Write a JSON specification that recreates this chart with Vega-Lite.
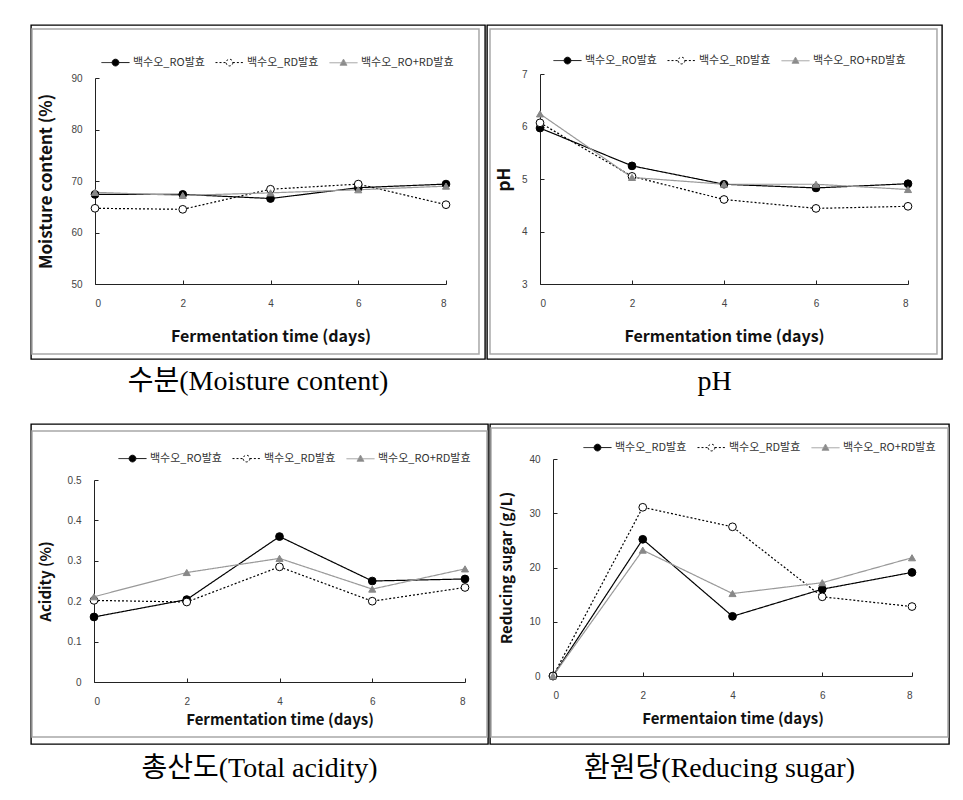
{
  "$schema": "https://vega.github.io/schema/vega-lite/v6.json",
  "padding": {"left": 30, "top": 24, "right": 0, "bottom": 0},
  "background": "white",
  "config": {
    "view": {"stroke": "#000000", "strokeWidth": 1.4},
    "axis": {"grid": false, "domainColor": "#222222", "tickColor": "#222222", "labelFont": "Liberation Sans", "labelFontSize": 10, "labelColor": "#444444", "titleFont": "Noto Sans CJK KR", "titleFontWeight": "bold", "titleColor": "#111111", "tickSize": -4},
    "legend": {"padding": 0, "labelFont": "Noto Sans CJK KR", "labelFontSize": 11, "labelColor": "#333333", "symbolSize": 784, "symbolStrokeWidth": 1, "columnPadding": 8, "labelOffset": 3},
    "point": {"size": 60, "opacity": 1, "strokeWidth": 1, "filled": true}
  },
  "datasets": {
    "moisture": [
      {"day": 0, "series": "백수오_RO발효", "value": 67.4}, {"day": 2, "series": "백수오_RO발효", "value": 67.4}, {"day": 4, "series": "백수오_RO발효", "value": 66.6}, {"day": 6, "series": "백수오_RO발효", "value": 68.7}, {"day": 8, "series": "백수오_RO발효", "value": 69.4},
      {"day": 0, "series": "백수오_RD발효", "value": 64.7}, {"day": 2, "series": "백수오_RD발효", "value": 64.5}, {"day": 4, "series": "백수오_RD발효", "value": 68.4}, {"day": 6, "series": "백수오_RD발효", "value": 69.4}, {"day": 8, "series": "백수오_RD발효", "value": 65.4},
      {"day": 0, "series": "백수오_RO+RD발효", "value": 67.8}, {"day": 2, "series": "백수오_RO+RD발효", "value": 67.2}, {"day": 4, "series": "백수오_RO+RD발효", "value": 67.7}, {"day": 6, "series": "백수오_RO+RD발효", "value": 68.3}, {"day": 8, "series": "백수오_RO+RD발효", "value": 69.0}
    ],
    "ph": [
      {"day": 0, "series": "백수오_RO발효", "value": 5.97}, {"day": 2, "series": "백수오_RO발효", "value": 5.25}, {"day": 4, "series": "백수오_RO발효", "value": 4.90}, {"day": 6, "series": "백수오_RO발효", "value": 4.83}, {"day": 8, "series": "백수오_RO발효", "value": 4.91},
      {"day": 0, "series": "백수오_RD발효", "value": 6.07}, {"day": 2, "series": "백수오_RD발효", "value": 5.05}, {"day": 4, "series": "백수오_RD발효", "value": 4.61}, {"day": 6, "series": "백수오_RD발효", "value": 4.44}, {"day": 8, "series": "백수오_RD발효", "value": 4.48},
      {"day": 0, "series": "백수오_RO+RD발효", "value": 6.24}, {"day": 2, "series": "백수오_RO+RD발효", "value": 5.03}, {"day": 4, "series": "백수오_RO+RD발효", "value": 4.90}, {"day": 6, "series": "백수오_RO+RD발효", "value": 4.90}, {"day": 8, "series": "백수오_RO+RD발효", "value": 4.80}
    ],
    "acidity": [
      {"day": 0, "series": "백수오_RO발효", "value": 0.161}, {"day": 2, "series": "백수오_RO발효", "value": 0.204}, {"day": 4, "series": "백수오_RO발효", "value": 0.360}, {"day": 6, "series": "백수오_RO발효", "value": 0.250}, {"day": 8, "series": "백수오_RO발효", "value": 0.255},
      {"day": 0, "series": "백수오_RD발효", "value": 0.202}, {"day": 2, "series": "백수오_RD발효", "value": 0.198}, {"day": 4, "series": "백수오_RD발효", "value": 0.285}, {"day": 6, "series": "백수오_RD발효", "value": 0.200}, {"day": 8, "series": "백수오_RD발효", "value": 0.234},
      {"day": 0, "series": "백수오_RO+RD발효", "value": 0.211}, {"day": 2, "series": "백수오_RO+RD발효", "value": 0.271}, {"day": 4, "series": "백수오_RO+RD발효", "value": 0.306}, {"day": 6, "series": "백수오_RO+RD발효", "value": 0.230}, {"day": 8, "series": "백수오_RO+RD발효", "value": 0.280}
    ],
    "sugar": [
      {"day": 0, "series": "백수오_RO발효", "value": 0}, {"day": 2, "series": "백수오_RO발효", "value": 25.2}, {"day": 4, "series": "백수오_RO발효", "value": 11.0}, {"day": 6, "series": "백수오_RO발효", "value": 16.0}, {"day": 8, "series": "백수오_RO발효", "value": 19.1},
      {"day": 0, "series": "백수오_RD발효", "value": 0}, {"day": 2, "series": "백수오_RD발효", "value": 31.1}, {"day": 4, "series": "백수오_RD발효", "value": 27.5}, {"day": 6, "series": "백수오_RD발효", "value": 14.6}, {"day": 8, "series": "백수오_RD발효", "value": 12.8},
      {"day": 0, "series": "백수오_RO+RD발효", "value": 0}, {"day": 2, "series": "백수오_RO+RD발효", "value": 23.2}, {"day": 4, "series": "백수오_RO+RD발효", "value": 15.2}, {"day": 6, "series": "백수오_RO+RD발효", "value": 17.2}, {"day": 8, "series": "백수오_RO+RD발효", "value": 21.8}
    ]
  },
  "spacing": 19,
  "resolve": {"scale": {"x": "independent", "y": "independent", "color": "independent", "strokeDash": "independent"}, "legend": {"color": "independent"}},
  "vconcat": [
    {
      "spacing": 0,
      "resolve": {"scale": {"x": "independent", "y": "independent", "color": "independent", "strokeDash": "independent"}, "legend": {"color": "independent"}},
      "hconcat": [
        {
          "spacing": 0,
          "resolve": {"scale": {"x": "independent", "y": "independent", "color": "independent", "strokeDash": "independent"}, "legend": {"color": "independent"}},
          "vconcat": [
            {
              "width": 454, "height": 334,
              "data": {"name": "moisture"},
              "layer": [
                {"data": {"values": [{}]}, "mark": {"type": "rect", "filled": false, "stroke": "#a8a8a8", "strokeWidth": 1.5},
                 "encoding": {"x": {"datum": -1.436, "type": "quantitative", "title": "Fermentation time (days)"}, "x2": {"datum": 8.752}, "y": {"datum": 99.51, "type": "quantitative", "title": "Moisture content (%)"}, "y2": {"datum": 36.41}}},
                {"mark": {"type": "line", "strokeWidth": 1.2},
                 "encoding": {
                   "x": {"field": "day", "type": "quantitative", "title": "Fermentation time (days)", "scale": {"domain": [0, 8], "range": [64, 415], "nice": false, "zero": false}, "axis": {"values": [0, 2, 4, 6, 8], "format": "d", "offset": -75, "labelPadding": 18, "titleFontSize": 16, "titlePadding": 20}},
                   "y": {"field": "value", "type": "quantitative", "title": "Moisture content (%)", "scale": {"domain": [50, 90], "range": [259, 53], "nice": false, "zero": false}, "axis": {"values": [50, 60, 70, 80, 90], "format": "d", "offset": -64, "labelPadding": 17, "titleFontSize": 17, "titlePadding": 15}},
                   "color": {"field": "series", "type": "nominal", "scale": {"domain": ["백수오_RO발효", "백수오_RD발효", "백수오_RO+RD발효"], "range": ["#000000", "#000000", "#999999"]},
                     "legend": {"orient": "none", "legendX": 70, "legendY": 23, "direction": "horizontal", "title": null,
                       "encode": {"symbols": {"update": {
                         "shape": {"signal": "datum.value === '백수오_RO+RD발효' ? 'M-1,0H1M0,-0.26L0.25,0.18L-0.25,0.18Z' : 'M-1,0H-0.24M0.24,0H1M0.24,0A0.24,0.24,0,1,1,-0.24,0A0.24,0.24,0,1,1,0.24,0Z'"},
                         "fill": {"signal": "datum.value === '백수오_RD발효' ? '#ffffff' : datum.value === '백수오_RO발효' ? '#000000' : '#888888'"},
                         "strokeDash": {"signal": "datum.value === '백수오_RD발효' ? [2, 2] : [1, 0]"},
                         "opacity": {"value": 1}, "fillOpacity": {"value": 1}}}}}},
                   "strokeDash": {"field": "series", "type": "nominal", "scale": {"domain": ["백수오_RO발효", "백수오_RD발효", "백수오_RO+RD발효"], "range": [[1, 0], [2, 2], [1, 0]]}, "legend": null}
                 }},
                {"transform": [{"filter": "datum.series === '백수오_RO발효'"}], "mark": {"type": "point", "shape": "circle", "fill": "#000000", "stroke": "#000000"},
                 "encoding": {"x": {"field": "day", "type": "quantitative"}, "y": {"field": "value", "type": "quantitative"}}},
                {"transform": [{"filter": "datum.series === '백수오_RD발효'"}], "mark": {"type": "point", "shape": "circle", "fill": "#ffffff", "stroke": "#000000"},
                 "encoding": {"x": {"field": "day", "type": "quantitative"}, "y": {"field": "value", "type": "quantitative"}}},
                {"transform": [{"filter": "datum.series === '백수오_RO+RD발효'"}], "mark": {"type": "point", "shape": "triangle-up", "fill": "#888888", "stroke": "#888888", "size": 50},
                 "encoding": {"x": {"field": "day", "type": "quantitative"}, "y": {"field": "value", "type": "quantitative"}}}
              ]
            },
            {
              "width": 454, "height": 44,
              "data": {"values": [{}]},
              "mark": {"type": "text", "text": "수분(Moisture  content)", "font": "'Liberation Serif', 'Noto Sans CJK KR'", "fontSize": 28, "color": "#000000", "align": "center", "baseline": "middle"}
            }
          ]
        },
        {
          "spacing": 0,
          "resolve": {"scale": {"x": "independent", "y": "independent", "color": "independent", "strokeDash": "independent"}, "legend": {"color": "independent"}},
          "vconcat": [
            {
              "width": 455, "height": 334,
              "data": {"name": "ph"},
              "layer": [
                {"data": {"values": [{}]}, "mark": {"type": "rect", "filled": false, "stroke": "#a8a8a8", "strokeWidth": 1.5},
                 "encoding": {"x": {"datum": -1.087, "type": "quantitative", "title": "Fermentation time (days)"}, "x2": {"datum": 8.63}, "y": {"datum": 7.857, "type": "quantitative", "title": "pH"}, "y2": {"datum": 1.667}}},
                {"mark": {"type": "line", "strokeWidth": 1.2},
                 "encoding": {
                   "x": {"field": "day", "type": "quantitative", "title": "Fermentation time (days)", "scale": {"domain": [0, 8], "range": [53, 421], "nice": false, "zero": false}, "axis": {"values": [0, 2, 4, 6, 8], "format": "d", "offset": -75, "labelPadding": 18, "titleFontSize": 16, "titlePadding": 20}},
                   "y": {"field": "value", "type": "quantitative", "title": "pH", "scale": {"domain": [3, 7], "range": [259, 49], "nice": false, "zero": false}, "axis": {"values": [3, 4, 5, 6, 7], "format": "d", "offset": -53, "labelPadding": 17, "titleFontSize": 17, "titlePadding": 8}},
                   "color": {"field": "series", "type": "nominal", "scale": {"domain": ["백수오_RO발효", "백수오_RD발효", "백수오_RO+RD발효"], "range": ["#000000", "#000000", "#999999"]},
                     "legend": {"orient": "none", "legendX": 66, "legendY": 21, "direction": "horizontal", "title": null,
                       "encode": {"symbols": {"update": {
                         "shape": {"signal": "datum.value === '백수오_RO+RD발효' ? 'M-1,0H1M0,-0.26L0.25,0.18L-0.25,0.18Z' : 'M-1,0H-0.24M0.24,0H1M0.24,0A0.24,0.24,0,1,1,-0.24,0A0.24,0.24,0,1,1,0.24,0Z'"},
                         "fill": {"signal": "datum.value === '백수오_RD발효' ? '#ffffff' : datum.value === '백수오_RO발효' ? '#000000' : '#888888'"},
                         "strokeDash": {"signal": "datum.value === '백수오_RD발효' ? [2, 2] : [1, 0]"},
                         "opacity": {"value": 1}, "fillOpacity": {"value": 1}}}}}},
                   "strokeDash": {"field": "series", "type": "nominal", "scale": {"domain": ["백수오_RO발효", "백수오_RD발효", "백수오_RO+RD발효"], "range": [[1, 0], [2, 2], [1, 0]]}, "legend": null}
                 }},
                {"transform": [{"filter": "datum.series === '백수오_RO발효'"}], "mark": {"type": "point", "shape": "circle", "fill": "#000000", "stroke": "#000000"},
                 "encoding": {"x": {"field": "day", "type": "quantitative"}, "y": {"field": "value", "type": "quantitative"}}},
                {"transform": [{"filter": "datum.series === '백수오_RD발효'"}], "mark": {"type": "point", "shape": "circle", "fill": "#ffffff", "stroke": "#000000"},
                 "encoding": {"x": {"field": "day", "type": "quantitative"}, "y": {"field": "value", "type": "quantitative"}}},
                {"transform": [{"filter": "datum.series === '백수오_RO+RD발효'"}], "mark": {"type": "point", "shape": "triangle-up", "fill": "#888888", "stroke": "#888888", "size": 50},
                 "encoding": {"x": {"field": "day", "type": "quantitative"}, "y": {"field": "value", "type": "quantitative"}}}
              ]
            },
            {
              "width": 455, "height": 44,
              "data": {"values": [{}]},
              "mark": {"type": "text", "text": "pH", "font": "'Liberation Serif', 'Noto Sans CJK KR'", "fontSize": 28, "color": "#000000", "align": "center", "baseline": "middle"}
            }
          ]
        }
      ]
    },
    {
      "spacing": 0,
      "resolve": {"scale": {"x": "independent", "y": "independent", "color": "independent", "strokeDash": "independent"}, "legend": {"color": "independent"}},
      "hconcat": [
        {
          "spacing": 0,
          "resolve": {"scale": {"x": "independent", "y": "independent", "color": "independent", "strokeDash": "independent"}, "legend": {"color": "independent"}},
          "vconcat": [
            {
              "width": 457, "height": 320,
              "data": {"name": "acidity"},
              "layer": [
                {"data": {"values": [{}]}, "mark": {"type": "rect", "filled": false, "stroke": "#a8a8a8", "strokeWidth": 1.5},
                 "encoding": {"x": {"datum": -1.337, "type": "quantitative", "title": "Fermentation time (days)"}, "x2": {"datum": 8.474}, "y": {"datum": 0.6213, "type": "quantitative", "title": "Acidity (%)"}, "y2": {"datum": -0.1361}}},
                {"mark": {"type": "line", "strokeWidth": 1.2},
                 "encoding": {
                   "x": {"field": "day", "type": "quantitative", "title": "Fermentation time (days)", "scale": {"domain": [0, 8], "range": [63, 434], "nice": false, "zero": false}, "axis": {"values": [0, 2, 4, 6, 8], "format": "d", "offset": -62, "labelPadding": 18, "titleFontSize": 15, "titlePadding": 6}},
                   "y": {"field": "value", "type": "quantitative", "title": "Acidity (%)", "scale": {"domain": [0, 0.5], "range": [258, 56], "nice": false, "zero": false}, "axis": {"values": [0, 0.1, 0.2, 0.3, 0.4, 0.5], "format": ".1~f", "offset": -63, "labelPadding": 17, "titleFontSize": 15, "titlePadding": 14}},
                   "color": {"field": "series", "type": "nominal", "scale": {"domain": ["백수오_RO발효", "백수오_RD발효", "백수오_RO+RD발효"], "range": ["#000000", "#000000", "#999999"]},
                     "legend": {"orient": "none", "legendX": 87, "legendY": 20, "direction": "horizontal", "title": null,
                       "encode": {"symbols": {"update": {
                         "shape": {"signal": "datum.value === '백수오_RO+RD발효' ? 'M-1,0H1M0,-0.26L0.25,0.18L-0.25,0.18Z' : 'M-1,0H-0.24M0.24,0H1M0.24,0A0.24,0.24,0,1,1,-0.24,0A0.24,0.24,0,1,1,0.24,0Z'"},
                         "fill": {"signal": "datum.value === '백수오_RD발효' ? '#ffffff' : datum.value === '백수오_RO발효' ? '#000000' : '#888888'"},
                         "strokeDash": {"signal": "datum.value === '백수오_RD발효' ? [2, 2] : [1, 0]"},
                         "opacity": {"value": 1}, "fillOpacity": {"value": 1}}}}}},
                   "strokeDash": {"field": "series", "type": "nominal", "scale": {"domain": ["백수오_RO발효", "백수오_RD발효", "백수오_RO+RD발효"], "range": [[1, 0], [2, 2], [1, 0]]}, "legend": null}
                 }},
                {"transform": [{"filter": "datum.series === '백수오_RO발효'"}], "mark": {"type": "point", "shape": "circle", "fill": "#000000", "stroke": "#000000"},
                 "encoding": {"x": {"field": "day", "type": "quantitative"}, "y": {"field": "value", "type": "quantitative"}}},
                {"transform": [{"filter": "datum.series === '백수오_RD발효'"}], "mark": {"type": "point", "shape": "circle", "fill": "#ffffff", "stroke": "#000000"},
                 "encoding": {"x": {"field": "day", "type": "quantitative"}, "y": {"field": "value", "type": "quantitative"}}},
                {"transform": [{"filter": "datum.series === '백수오_RO+RD발효'"}], "mark": {"type": "point", "shape": "triangle-up", "fill": "#888888", "stroke": "#888888", "size": 50},
                 "encoding": {"x": {"field": "day", "type": "quantitative"}, "y": {"field": "value", "type": "quantitative"}}}
              ]
            },
            {
              "width": 457, "height": 47,
              "data": {"values": [{}]},
              "mark": {"type": "text", "text": "총산도(Total  acidity)", "font": "'Liberation Serif', 'Noto Sans CJK KR'", "fontSize": 28, "color": "#000000", "align": "center", "baseline": "middle"}
            }
          ]
        },
        {
          "spacing": 0,
          "resolve": {"scale": {"x": "independent", "y": "independent", "color": "independent", "strokeDash": "independent"}, "legend": {"color": "independent"}},
          "vconcat": [
            {
              "width": 459, "height": 320,
              "data": {"name": "sugar"},
              "layer": [
                {"data": {"values": [{}]}, "mark": {"type": "rect", "filled": false, "stroke": "#a8a8a8", "strokeWidth": 1.5},
                 "encoding": {"x": {"datum": -1.382, "type": "quantitative", "title": "Fermentaion time (days)"}, "x2": {"datum": 8.802}, "y": {"datum": 45.71, "type": "quantitative", "title": "Reducing sugar (g/L)"}, "y2": {"datum": -11.24}}},
                {"mark": {"type": "line", "strokeWidth": 1.2},
                 "encoding": {
                   "x": {"field": "day", "type": "quantitative", "title": "Fermentaion time (days)", "scale": {"domain": [0, 8], "range": [63, 422], "nice": false, "zero": false}, "axis": {"values": [0, 2, 4, 6, 8], "format": "d", "offset": -68, "labelPadding": 18, "titleFontSize": 15, "titlePadding": 11}},
                   "y": {"field": "value", "type": "quantitative", "title": "Reducing sugar (g/L)", "scale": {"domain": [0, 40], "range": [252, 35], "nice": false, "zero": false}, "axis": {"values": [0, 10, 20, 30, 40], "format": "d", "offset": -63, "labelPadding": 17, "titleFontSize": 15, "titlePadding": 14}},
                   "color": {"field": "series", "type": "nominal", "scale": {"domain": ["백수오_RO발효", "백수오_RD발효", "백수오_RO+RD발효"], "range": ["#000000", "#000000", "#999999"]},
                     "legend": {"orient": "none", "legendX": 93, "legendY": 9, "direction": "horizontal", "title": null,
                       "labelExpr": "datum.label === '백수오_RO발효' ? '백수오_RD발효' : datum.label",
                       "encode": {"symbols": {"update": {
                         "shape": {"signal": "datum.value === '백수오_RO+RD발효' ? 'M-1,0H1M0,-0.26L0.25,0.18L-0.25,0.18Z' : 'M-1,0H-0.24M0.24,0H1M0.24,0A0.24,0.24,0,1,1,-0.24,0A0.24,0.24,0,1,1,0.24,0Z'"},
                         "fill": {"signal": "datum.value === '백수오_RD발효' ? '#ffffff' : datum.value === '백수오_RO발효' ? '#000000' : '#888888'"},
                         "strokeDash": {"signal": "datum.value === '백수오_RD발효' ? [2, 2] : [1, 0]"},
                         "opacity": {"value": 1}, "fillOpacity": {"value": 1}}}}}},
                   "strokeDash": {"field": "series", "type": "nominal", "scale": {"domain": ["백수오_RO발효", "백수오_RD발효", "백수오_RO+RD발효"], "range": [[1, 0], [2, 2], [1, 0]]}, "legend": null}
                 }},
                {"transform": [{"filter": "datum.series === '백수오_RO발효'"}], "mark": {"type": "point", "shape": "circle", "fill": "#000000", "stroke": "#000000"},
                 "encoding": {"x": {"field": "day", "type": "quantitative"}, "y": {"field": "value", "type": "quantitative"}}},
                {"transform": [{"filter": "datum.series === '백수오_RD발효'"}], "mark": {"type": "point", "shape": "circle", "fill": "#ffffff", "stroke": "#000000"},
                 "encoding": {"x": {"field": "day", "type": "quantitative"}, "y": {"field": "value", "type": "quantitative"}}},
                {"transform": [{"filter": "datum.series === '백수오_RO+RD발효'"}], "mark": {"type": "point", "shape": "triangle-up", "fill": "#888888", "stroke": "#888888", "size": 50},
                 "encoding": {"x": {"field": "day", "type": "quantitative"}, "y": {"field": "value", "type": "quantitative"}}}
              ]
            },
            {
              "width": 459, "height": 47,
              "data": {"values": [{}]},
              "mark": {"type": "text", "text": "환원당(Reducing  sugar)", "font": "'Liberation Serif', 'Noto Sans CJK KR'", "fontSize": 28, "color": "#000000", "align": "center", "baseline": "middle"}
            }
          ]
        }
      ]
    }
  ]
}
